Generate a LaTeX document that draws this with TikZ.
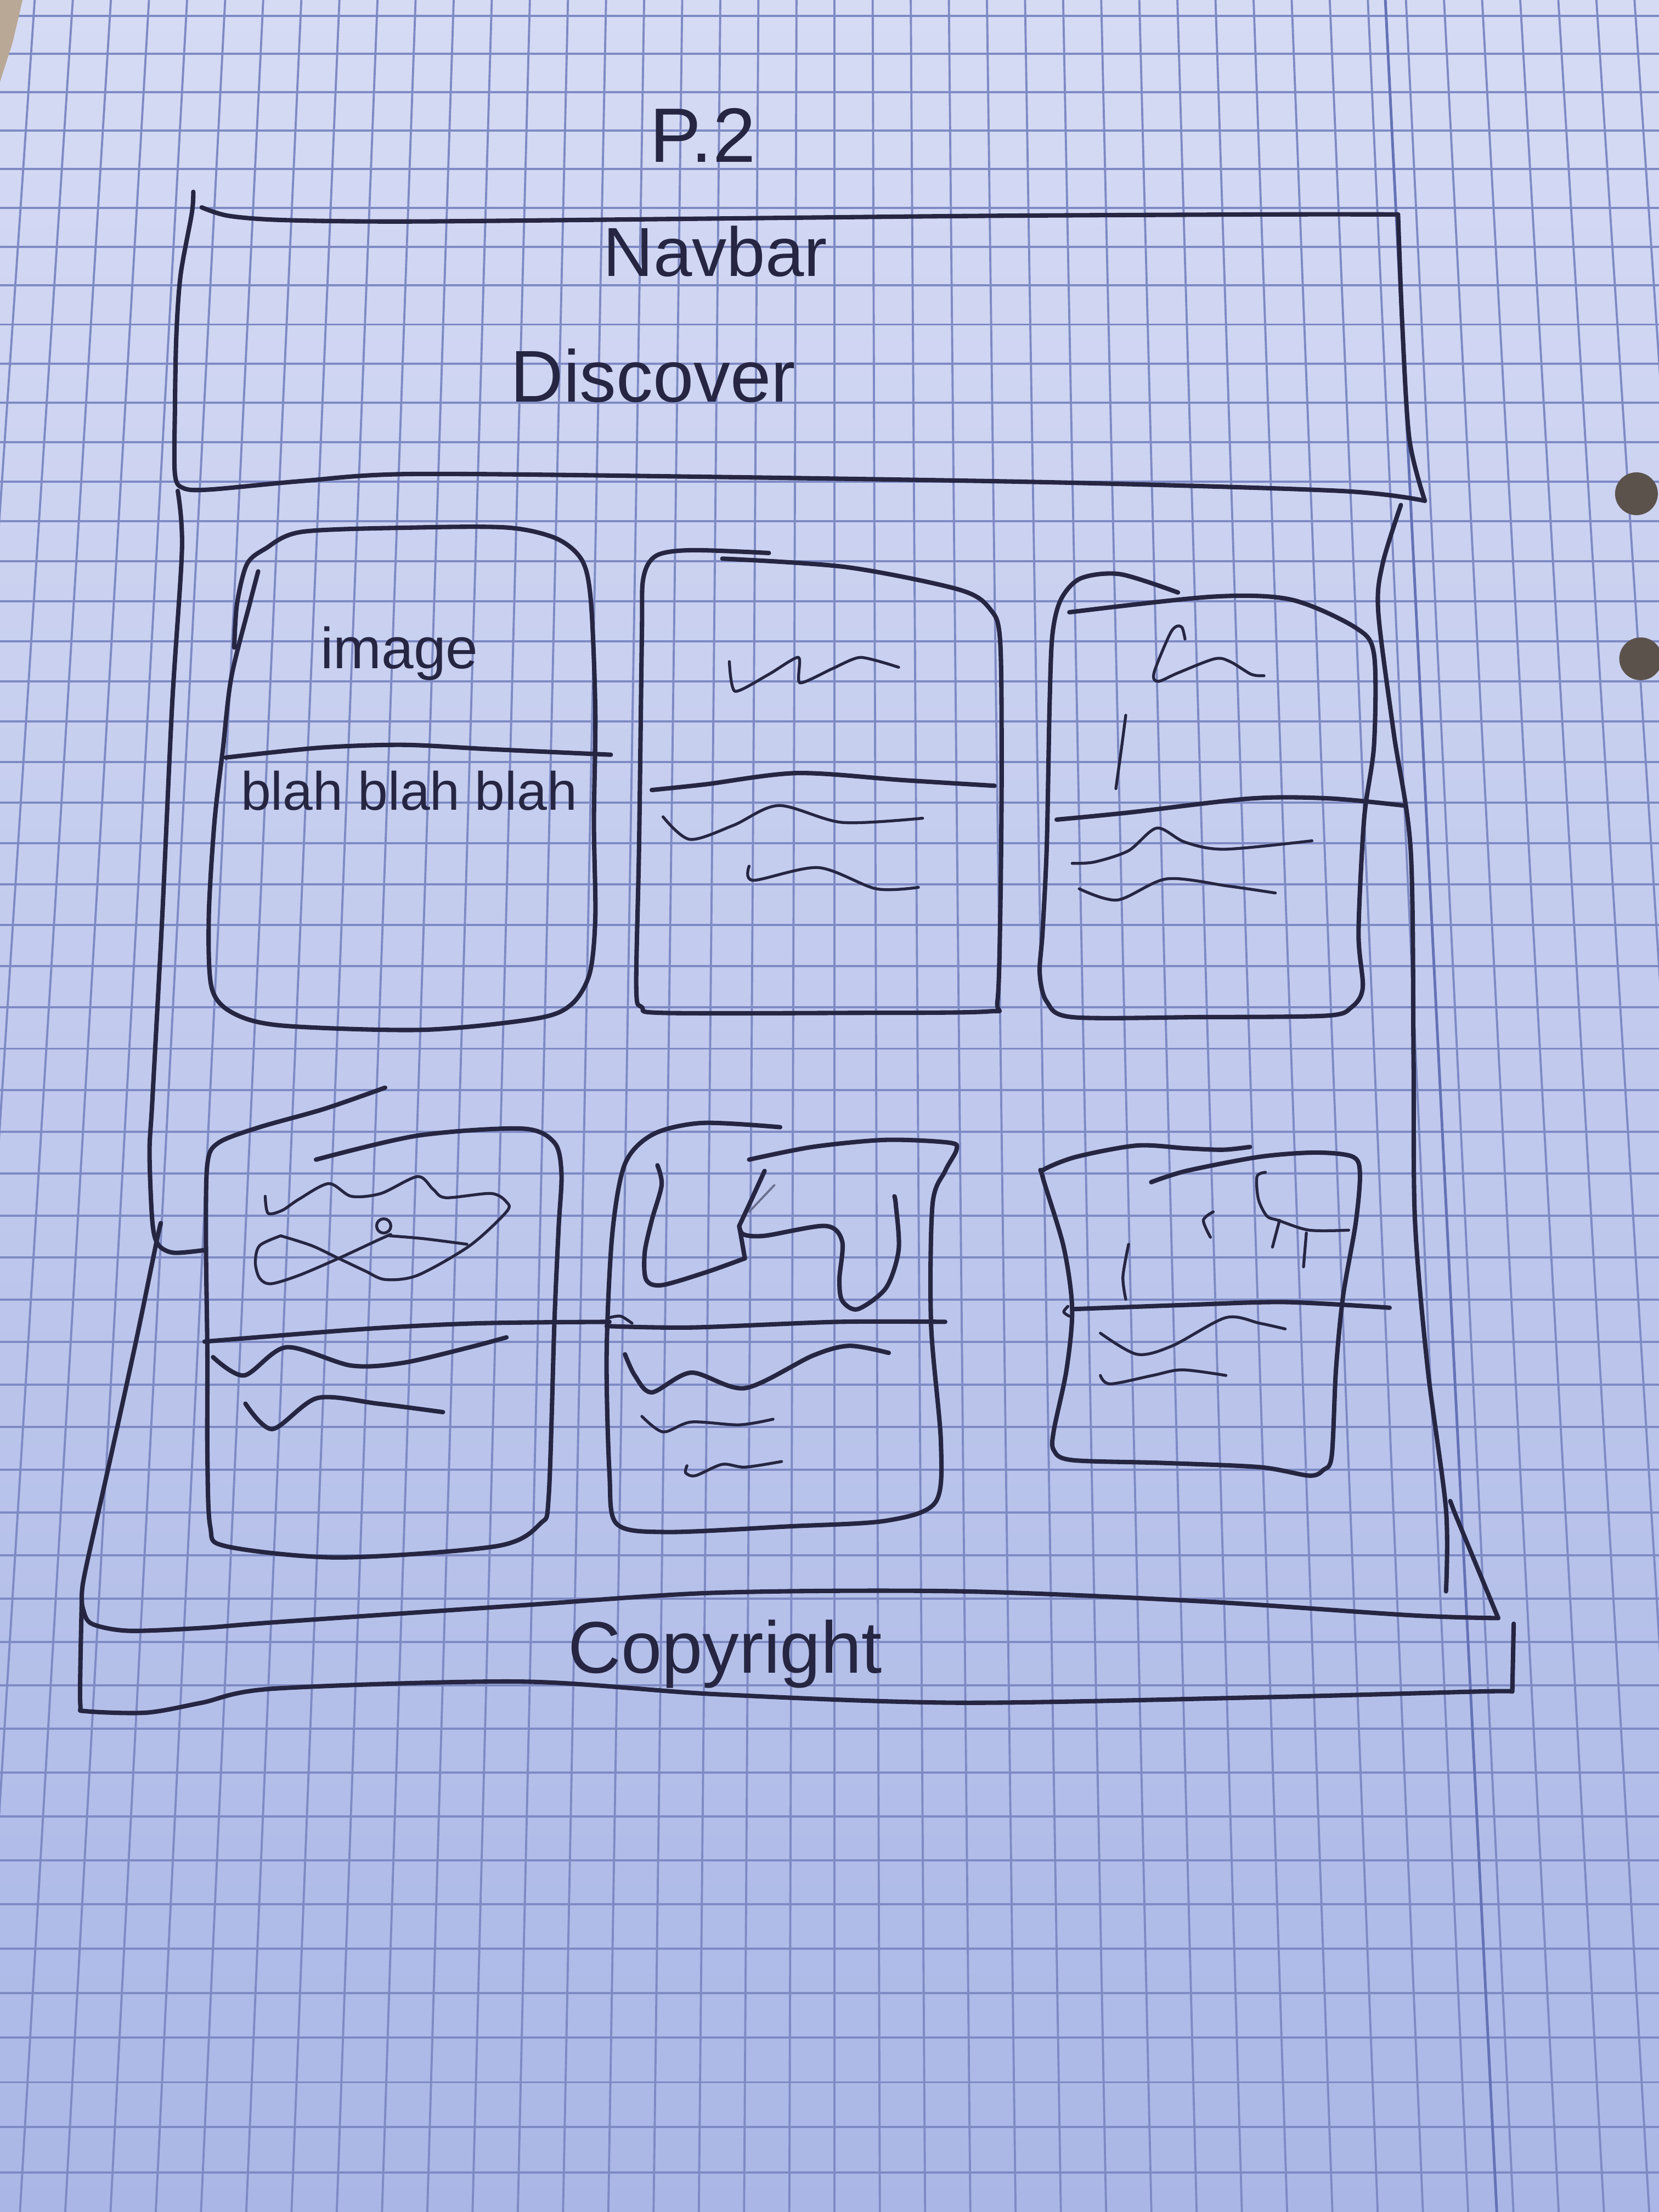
\documentclass[tikz,border=0pt]{standalone}
\usepackage{fontspec}
\setmainfont{Liberation Sans}
\definecolor{inkc}{RGB}{38,38,66}
\definecolor{gridc}{RGB}{126,138,196}
\definecolor{margc}{RGB}{100,114,182}
\definecolor{papertop}{RGB}{214,219,244}
\definecolor{papermid}{RGB}{194,202,238}
\definecolor{paperbot}{RGB}{170,183,230}
\definecolor{holec}{RGB}{92,82,76}
\definecolor{tanc}{RGB}{186,168,150}
\tikzset{
  ink/.style={draw=inkc, line width=2.3pt, line cap=round, line join=round},
  fineink/.style={draw=inkc, line width=1.5pt, line cap=round, line join=round},
  faintink/.style={draw=inkc!55!papermid, line width=1.1pt, line cap=round},
  gridl/.style={draw=gridc, line width=1.1pt},
  hand/.style={text=inkc, inner sep=0pt, anchor=base},
  sm/.style={smooth, tension=0.5}
}
\begin{document}
\begin{tikzpicture}[x=0.0257143cm, y=-0.0257143cm]
\useasboundingbox (0,0) rectangle (1176,1568);

% squared paper: columns widen slightly towards the bottom edge
\begin{scope}
  \clip (0,0) rectangle (1176,1568);
  \shade[top color=papertop, middle color=papermid, bottom color=paperbot] (0,0) rectangle (1176,1568);
  \foreach \j in {-22,-21,...,22}{
    \draw[gridl] ({591.6+27*\j},0) -- ({591.6+32.08*\j},1568);
  }
  \foreach \k in {0,1,...,53}{
    \pgfmathsetmacro\yy{(exp(0.00324*(\k+0.42))-1)/0.00012}
    \draw[gridl] (0,\yy) -- (1176,\yy);
  }
  \draw[draw=margc, line width=1.4pt] (982,0) -- (1061,1568);
  \fill[tanc] (0,0) -- (16,0) -- (9,30) -- (0,58) -- cycle;
  \fill[holec] (1160,350) circle (0.39cm);
  \fill[holec] (1163,467) circle (0.39cm);
\end{scope}

% page number
\node[hand, font=\fontsize{40}{40}\selectfont] (pagenum) at (498,115) {P.2};

% navbar block
\draw[ink] plot[sm] coordinates {(137,136) (136,151) (128,195) (125,238) (124,290) (124,336) (130,346) (149,347) (214,341) (292,336) (500,338) (750,342) (950,348) (1010,355)};
\draw[ink] plot[sm] coordinates {(143,147) (162,153) (201,156) (292,157) (500,155) (700,153) (900,152) (991,152)};
\draw[ink] plot[sm] coordinates {(991,152) (994,230) (999,311) (1010,355)};
\node[hand, font=\fontsize{36}{36}\selectfont] (navbar) at (507,196) {Navbar};
\node[hand, font=\fontsize{38}{38}\selectfont] (discover) at (463,285) {Discover};

% page frame and footer
\draw[ink] plot[sm] coordinates {(126,348) (129,389) (122,500) (115,650) (108,780) (106,817) (108,866) (112,882) (123,888) (146,886)};
\draw[ink] plot[sm] coordinates {(114,867) (111,880) (97,948) (78,1035) (61,1111) (58,1130) (59,1141) (65,1151) (91,1156) (143,1154) (194,1150) (369,1138) (508,1129) (680,1128) (850,1135) (1000,1145) (1062,1147)};
\draw[ink] (1062,1147) -- (1031,1072) -- (1028,1064);
\draw[ink] plot[sm] coordinates {(58,1133) (57,1180) (57,1209) (61,1213) (104,1214) (143,1207) (194,1197) (369,1192) (508,1201) (680,1207) (900,1203) (1050,1199) (1072,1199)};
\draw[ink] (1072,1199) -- (1073,1151);
\draw[ink] plot[sm] coordinates {(993,358) (980,400) (977,434) (988,520) (1000,603) (1002,750) (1003,865) (1012,970) (1025,1070) (1025,1128)};
\node[hand, font=\fontsize{38}{38}\selectfont] (copyright) at (514,1186) {Copyright};

% card 1 (labelled)
\draw[ink] plot[sm] coordinates {(166,459) (168,428) (175,400) (188,389) (214,377) (292,374) (360,374) (395,382) (413,398) (419,428) (422,505) (421,583) (422,650) (418,690) (405,712) (380,722) (300,730) (200,727) (165,718) (150,700) (148,650) (152,583) (158,531) (164,480) (177,428) (183,405)};
\draw[ink] plot[sm] coordinates {(160,537) (227,530) (286,528) (346,531) (433,535)};
\node[hand, font=\fontsize{30}{30}\selectfont] (imagelabel) at (283,474) {image};
\node[hand, font=\fontsize{28}{28}\selectfont] (textlabel) at (290,574) {blah blah blah};

% card 2
\draw[ink] plot[sm] coordinates {(545,392) (490,390) (465,394) (456,410) (455,450) (453,600) (451,700) (455,714) (470,718) (600,718) (700,717) (707,710) (709,650) (710,550) (709,455) (702,432) (680,418) (600,402) (512,396)};
\draw[ink] plot[sm] coordinates {(462,560) (500,556) (565,548) (640,553) (705,557)};
\draw[fineink] plot[smooth, tension=0.4] coordinates {(517,469) (521,490) (545,478) (566,466) (567,484) (590,474) (610,466) (637,473)};
\draw[fineink] plot[sm] coordinates {(470,579) (489,595) (520,585) (552,571) (597,583) (654,580)};
\draw[fineink] plot[sm] coordinates {(531,614) (534,624) (580,615) (621,630) (651,629)};

% card 3
\draw[ink] plot[sm] coordinates {(835,420) (794,407) (766,410) (752,425) (746,450) (744,500) (742,600) (739,661) (737,690) (742,710) (760,721) (850,721) (940,720) (958,714) (966,700) (963,661) (967,580) (974,528) (974,464) (961,445) (915,425) (859,423) (758,434)};
\draw[ink] plot[sm] coordinates {(749,581) (800,576) (887,566) (943,566) (995,571)};
\draw[fineink] plot[sm] coordinates {(840,453) (838,445) (834,444) (829,450) (818,477) (821,483) (835,477) (861,467) (872,469) (887,478) (896,479)};
\draw[fineink] plot[sm] coordinates {(798,507) (795,530) (791,559)};
\draw[fineink] plot[sm] coordinates {(760,612) (776,611) (800,603) (820,587) (840,597) (868,602) (930,596)};
\draw[fineink] plot[sm] coordinates {(765,630) (792,638) (827,623) (870,628) (904,633)};

% card 4
\draw[ink] plot[sm] coordinates {(273,771) (230,786) (184,799) (155,810) (147,825) (146,880) (147,960) (147,1030) (149,1082) (160,1096) (240,1104) (352,1096) (383,1080) (389,1060) (393,937) (396,870) (398,832) (393,810) (370,800) (296,805) (224,822)};
\draw[ink] plot[sm] coordinates {(145,951) (259,942) (340,938) (432,937)};
\draw[fineink] plot[sm] coordinates {(188,848) (190,860) (200,858) (212,850) (233,839) (249,848) (270,846) (296,834) (307,843) (316,849) (348,846) (359,852) (359,859) (333,883) (296,904) (273,907) (259,901) (240,892) (221,883) (199,876)};
\draw[fineink] plot[sm] coordinates {(199,876) (184,883) (181,895) (184,906) (192,910) (212,904) (240,892) (268,879) (277,875)};
\draw[fineink] (272,869) circle (0.13cm);
\draw[fineink] plot[sm] coordinates {(276,876) (300,878) (331,882)};
\draw[ink] plot[sm] coordinates {(151,962) (173,975) (203,955) (249,968) (286,966) (333,955) (359,948)};
\draw[ink] plot[sm] coordinates {(174,995) (193,1013) (225,991) (268,995) (314,1001)};

% card 5
\draw[ink] plot[sm] coordinates {(553,799) (498,796) (463,804) (443,825) (434,875) (430,960) (432,1044) (437,1080) (472,1086) (559,1082) (628,1078) (663,1065) (667,1023) (660,939) (661,854) (670,830) (678,815) (673,810) (628,808) (576,813) (531,822)};
\draw[ink] plot[sm] coordinates {(430,940) (490,941) (594,937) (670,937)};
\draw[fineink] plot[sm] coordinates {(432,934) (440,933) (448,938)};
\draw[ink] plot[sm] coordinates {(466,826) (469,840) (462,865) (457,888) (458,907) (469,911) (500,902) (528,892)};
\draw[ink] (528,892) -- (524,869) -- (531,854) -- (542,830);
\draw[ink] plot[sm] coordinates {(524,869) (527,875) (542,876) (585,869) (597,880) (595,907) (597,922) (608,928) (628,913) (637,886) (635,854) (634,848)};
\draw[faintink] (531,859) -- (549,840);
\draw[ink] plot[sm] coordinates {(443,960) (450,975) (462,987) (490,973) (528,984) (576,961) (602,954) (630,959)};
\draw[fineink] plot[sm] coordinates {(455,1004) (470,1015) (490,1008) (524,1010) (548,1006)};
\draw[fineink] plot[sm] coordinates {(487,1039) (486,1044) (493,1046) (512,1038) (528,1040) (554,1036)};

% card 6
\draw[ink] plot[sm] coordinates {(886,813) (867,815) (841,814) (806,812) (763,820) (740,829) (739,834) (754,884) (760,928) (756,971) (747,1014) (747,1028) (760,1035) (824,1037) (893,1040) (928,1046) (938,1042) (944,1032) (947,971) (952,919) (961,867) (964,832) (959,820) (933,817) (893,820) (841,830) (816,838)};
\draw[ink] plot[sm] coordinates {(760,928) (841,925) (911,923) (985,927)};
\draw[fineink] plot[sm] coordinates {(757,926) (754,930) (758,933)};
\draw[fineink] plot[sm] coordinates {(800,882) (796,905) (798,921)};
\draw[fineink] plot[sm] coordinates {(860,859) (853,865) (858,877)};
\draw[fineink] plot[sm] coordinates {(897,831) (891,834) (892,850) (898,862) (906,865) (928,872) (956,872)};
\draw[fineink] (907,865) -- (902,884);
\draw[fineink] (926,874) -- (924,898);
\draw[fineink] plot[sm] coordinates {(780,945) (806,960) (831,954) (869,934) (893,938) (911,942)};
\draw[fineink] plot[sm] coordinates {(780,975) (787,981) (817,975) (838,971) (869,975)};
\end{tikzpicture}
\end{document}
